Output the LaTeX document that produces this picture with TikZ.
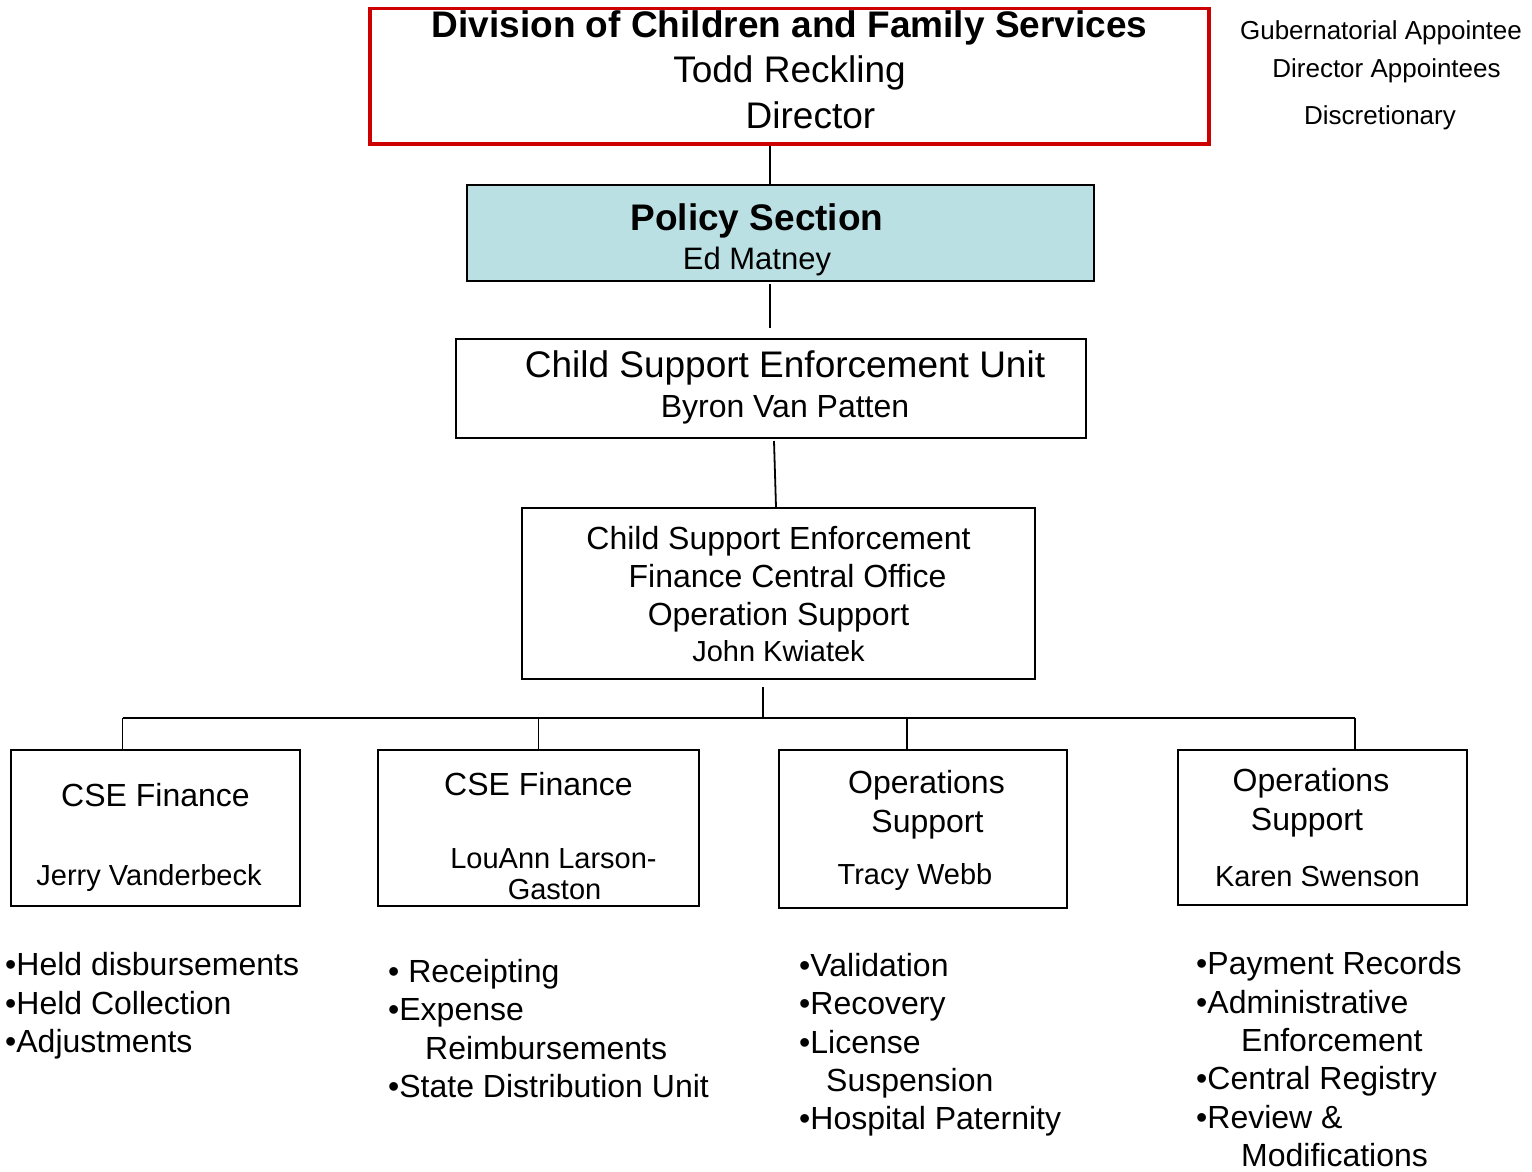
\documentclass[tikz,border=0pt]{standalone}
\usepackage{fontspec}
\setmainfont{Liberation Sans}
\definecolor{divred}{RGB}{204,0,0}
\definecolor{policyblue}{RGB}{187,224,227}
\newcommand{\hstrut}[1]{\rule{0pt}{#1pt}}
\newcommand{\dstrut}[1]{\rule[-#1pt]{0pt}{#1pt}}
\newcommand{\pad}[1]{\rule{#1pt}{0pt}}

\begin{document}
\begin{tikzpicture}[x=1pt, y=-1pt,
  unit/.style={draw, line width=2pt, inner xsep=6pt, inner ysep=0pt, align=center},
  topunit/.style={unit, draw=divred, line width=3.5pt},
  duties/.style={anchor=north west, inner sep=0pt, align=left, font=\fontsize{32}{38.4}\selectfont},
  legend/.style={anchor=base, inner sep=0pt, font=\fontsize{26}{30}\selectfont},
  link/.style={line width=1.8pt}]
\useasboundingbox (0,0) rectangle (1532,1171);

% chain of command
\node[topunit, minimum width=839pt, minimum height=135.5pt, font=\fontsize{37}{45.75}\selectfont] (div) at (789.5,76.25)
  {\hstrut{28.5}{\bfseries Division of Children and Family Services}\\Todd Reckling\\\pad{42}Director\dstrut{15.5}};
\node[unit, fill=policyblue, minimum width=627pt, minimum height=96pt, font=\fontsize{31}{39}\selectfont] (policy) at (780.5,233)
  {\hstrut{45}{\fontsize{37}{39}\selectfont\bfseries Policy Section}\pad{47}\\Ed Matney\pad{47}\dstrut{12}};
\node[unit, minimum width=630pt, minimum height=99pt, font=\fontsize{32}{40}\selectfont] (cseu) at (771,388.5)
  {\hstrut{38}\pad{28}{\fontsize{37}{40}\selectfont Child Support Enforcement Unit}\\\pad{28}Byron Van Patten\dstrut{21}};
\node[unit, minimum width=513pt, minimum height=171pt, font=\fontsize{32}{38}\selectfont] (fco) at (778.5,593.5)
  {\hstrut{41}Child Support Enforcement\\\pad{18}Finance Central Office\\Operation Support\\[-2pt]{\fontsize{29}{38}\selectfont John Kwiatek}\dstrut{18}};

% sections
\node[unit, minimum width=289pt, minimum height=156pt, font=\fontsize{32}{38}\selectfont] (fin1) at (155.5,828)
  {\hstrut{56}CSE Finance\\[41pt]{\fontsize{29}{38}\selectfont Jerry Vanderbeck}\pad{13}\dstrut{21}};
\node[unit, minimum width=321pt, minimum height=156pt, font=\fontsize{29}{31}\selectfont] (fin2) at (538.5,828)
  {\hstrut{45}{\fontsize{32}{31}\selectfont CSE Finance}\\[42pt]\pad{30}LouAnn Larson-\\\pad{32}Gaston\dstrut{7}};
\node[unit, minimum width=288pt, minimum height=158pt, font=\fontsize{32}{39}\selectfont] (ops1) at (923,829)
  {\hstrut{43}\pad{7}Operations\\\pad{9}Support\\[13pt]{\fontsize{29}{39}\selectfont Tracy Webb}\pad{16}\dstrut{24}};
\node[unit, minimum width=289pt, minimum height=155pt, font=\fontsize{32}{39}\selectfont] (ops2) at (1322.5,827.5)
  {\hstrut{41}Operations\pad{23}\\Support\pad{31}\\[17pt]{\fontsize{29}{39}\selectfont Karen Swenson}\pad{10}\dstrut{19}};

% legend
\node[legend] (gov) at (1381,39.5) {Gubernatorial Appointee};
\node[legend] (dirapp) at (1386.5,77.5) {Director Appointees};
\node[legend] (disc) at (1380,124) {Discretionary};

% duties
\node[duties] (fin1duties) at (5,945.5)
  {\hstrut{30}•Held disbursements\\•Held Collection\\•Adjustments};
\node[duties] (fin2duties) at (388,952)
  {\hstrut{30}• Receipting\\•Expense\\\pad{37}Reimbursements\\•State Distribution Unit};
\node[duties] (ops1duties) at (799,946)
  {\hstrut{30}•Validation\\•Recovery\\•License\\\pad{27}Suspension\\•Hospital Paternity};
\node[duties] (ops2duties) at (1196,944.5)
  {\hstrut{30}•Payment Records\\•Administrative\\\pad{45}Enforcement\\•Central Registry\\•Review \&\\\pad{45}Modifications};

% links
\draw[link] ([xshift=-19.5pt]div.south) -- ([xshift=-10.5pt]policy.north);
\draw[link] ([xshift=-10.5pt,yshift=-2pt]policy.south) -- ([xshift=-1pt,yshift=10pt]cseu.north);
\draw[link] ([xshift=3pt,yshift=-2pt]cseu.south) -- ([xshift=-2.5pt]fco.north);
\coordinate (bus) at (763,718);
\draw[link] ([xshift=-15.5pt,yshift=-7pt]fco.south) -- (bus);
\draw[link] ([xshift=-33pt]fin1.north |- bus) -- ([xshift=32.5pt]ops2.north |- bus);
\foreach \sub/\dx in {fin1/-33, fin2/0, ops1/-16, ops2/32.5}
  \draw[link] ([xshift=\dx pt]\sub.north) -- ([xshift=\dx pt]\sub.north |- bus);
\end{tikzpicture}
\end{document}
